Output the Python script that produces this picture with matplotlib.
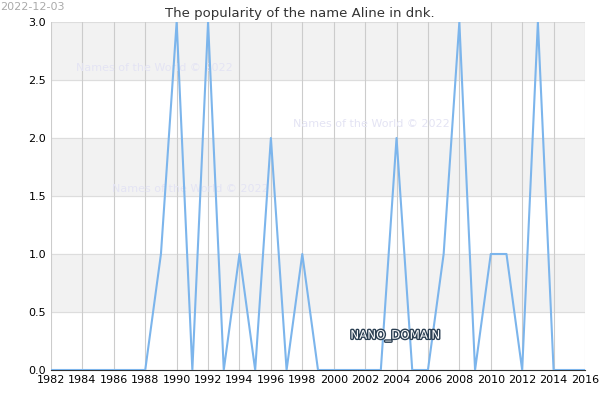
import matplotlib
matplotlib.use('Agg')
import matplotlib.pyplot as plt
import matplotlib.patheffects as pe

years = list(range(1982, 2017))
counts = [0, 0, 0, 0, 0, 0, 0, 1, 3, 0, 3, 0, 1, 0, 2, 0, 1, 0, 0, 0,
          0, 0, 2, 0, 0, 1, 3, 0, 1, 1, 0, 3, 0, 0, 0]
xticks = list(range(1982, 2017, 2))
yticks = [0.0, 0.5, 1.0, 1.5, 2.0, 2.5, 3.0]

fig = plt.figure(figsize=(6, 4), dpi=100)
ax = fig.add_axes([51/600, 30/400, 534/600, 348/400])

for lo in [0.5, 1.5, 2.5]:
    ax.axhspan(lo, lo + 0.5, color='#f2f2f2', zorder=0)
for y in yticks:
    ax.axhline(y, color='#dddddd', lw=0.8, zorder=0)
for x in xticks:
    ax.axvline(x, color='#cccccc', lw=0.8, zorder=0)

ax.plot(years, counts, color='#7cb5ec', lw=1.5, zorder=3)

ax.set_xlim(1982, 2016)
ax.set_ylim(0, 3)
ax.set_xticks(xticks)
ax.set_yticks(yticks)
ax.set_yticklabels([f'{v:.1f}' for v in yticks])
ax.tick_params(labelsize=8, length=0)
for s in ax.spines.values():
    s.set_visible(False)
ax.spines['bottom'].set_visible(True)
ax.spines['bottom'].set_color('#333333')

fig.text(0.5, 0.965, 'The popularity of the name Aline in dnk.', ha='center', va='center', fontsize=9.5, color='#333333')
fig.text(0.0, 0.995, '2022-12-03', ha='left', va='top', fontsize=8, color='#aaaaaa')

wm = dict(fontsize=8, color='#e4e4f4', zorder=1)
ax.text(1988.6, 2.6, 'Names of the World © 2022', ha='center', va='center', **wm)
ax.text(2002.4, 2.12, 'Names of the World © 2022', ha='center', va='center', **wm)
ax.text(1990.9, 1.56, 'Names of the World © 2022', ha='center', va='center', **wm)
ax.text(2003.9, 0.3, 'NANO_DOMAIN', ha='center', va='center', fontsize=8.5, color='#ffffff',
        path_effects=[pe.withStroke(linewidth=2, foreground='#2b3f52')], zorder=4)

fig.savefig('out.png')
